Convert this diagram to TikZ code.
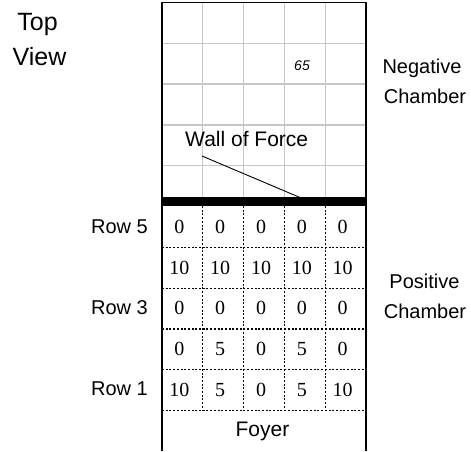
\documentclass[tikz,border=0pt]{standalone}
\usepackage{fontspec}
\setmainfont{Liberation Sans}
\newfontfamily\numfont{Liberation Serif}
\begin{document}
\begin{tikzpicture}[x=1pt,y=-1pt,
  lbl/.style={font=\fontsize{20}{24}\selectfont, inner sep=0pt, anchor=base},
  big/.style={font=\fontsize{25}{30}\selectfont, inner sep=0pt, anchor=base},
  num/.style={font=\numfont\fontsize{20}{24}\selectfont, inner sep=0pt, anchor=base},
  border/.style={line width=1.5pt, black},
  gridln/.style={line width=1.3pt, black!22},
  dotln/.style={line width=1.2pt, black, dash pattern=on 2pt off 1.7pt},
  leader/.style={line width=0.9pt, black}]
\useasboundingbox (0,0) rectangle (471,451);
% negative chamber grid
\foreach \i in {1,...,4} {
  \draw[gridln] ({162+40.8*\i},2.5) -- ({162+40.8*\i},197);
  \draw[gridln] (162,{2.5+40.8*\i}) -- (366,{2.5+40.8*\i});
}
% positive chamber dotted grid
\foreach \i in {1,...,4}
  \draw[dotln] ({162+40.8*\i},206) -- ({162+40.8*\i},410.7);
\foreach \k in {1,...,5}
  \draw[dotln] (162,{206.5+40.84*\k}) -- (366,{206.5+40.84*\k});
% wall
\fill[black] (162,197) rectangle (366,206);
\coordinate (wallpt) at (300,197.5);
% borders
\draw[border] (162,451) -- (162,2.5) -- (366,2.5) -- (366,451);
% numbers
\foreach \r/\vals in {0/{0,0,0,0,0},1/{10,10,10,10,10},2/{0,0,0,0,0},3/{0,5,0,5,0},4/{10,5,0,5,10}} {
  \foreach \v [count=\c] in \vals
    \node[num] (n-\r-\c) at ({162+40.8*(\c-0.5)-3},{233.5+40.7*\r}) {\v};
}
% labels
\node[big] (top) at (37.5,30.7) {Top};
\node[big] (view) at (39.5,65) {View};
\node[lbl] (neg) at (422,73.3) {Negative};
\node[lbl] (negc) at (425,103) {Chamber};
\node[lbl] (pos) at (424.5,288) {Positive};
\node[lbl] (posc) at (425,318) {Chamber};
\node[lbl, anchor=base east] (r5) at (148,233.3) {Row 5};
\node[lbl, anchor=base east] (r3) at (148,314) {Row 3};
\node[lbl, anchor=base east] (r1) at (148,395) {Row 1};
\node[lbl, font=\fontsize{21}{25}\selectfont] (wof) at (246.7,146.7) {Wall of Force};
\node[lbl, font=\fontsize{21}{25}\selectfont] (foyer) at (262.5,436.7) {Foyer};
\node[inner sep=0pt, anchor=base, font=\fontsize{14}{16}\selectfont\itshape] (sf) at (302,70.5) {65};
\coordinate (wofstart) at (202,156);
\draw[leader] (wofstart) -- (wallpt);
\end{tikzpicture}
\end{document}
